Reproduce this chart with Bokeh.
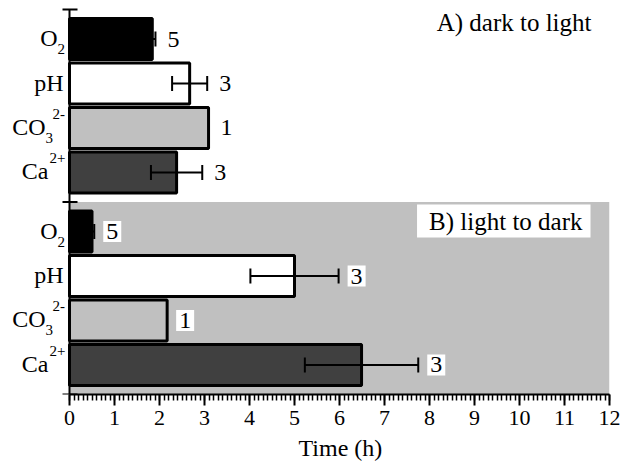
from bokeh.plotting import figure
from bokeh.models import ColumnDataSource, Whisker, TeeHead, Label, FixedTicker, Range1d, Title
from bokeh.embed import file_html
from bokeh.resources import INLINE

# ---- data -------------------------------------------------------------
species = ["O2", "pH", "CO3", "Ca"]
label_main = ["O", "pH", "CO", "Ca"]
label_sub = ["2", "", "3", ""]
label_sup = ["", "", "2-", "2+"]
bar_colors = ["#000000", "#ffffff", "#c0c0c0", "#404040"]

dark_to_light_mean = [1.84, 2.67, 3.09, 2.38]
dark_to_light_err = [0.07, 0.39, 0.0, 0.57]
dark_to_light_n = [5, 3, 1, 3]

light_to_dark_mean = [0.50, 5.00, 2.17, 6.49]
light_to_dark_err = [0.05, 0.98, 0.0, 1.26]
light_to_dark_n = [5, 3, 1, 3]

panel_titles = ["A) dark to light", "B) light to dark"]
x_title = "Time (h)"
x_ticks = list(range(0, 13))

# ---- layout constants -------------------------------------------------
PANEL_H = 4.33
EDGE = 0.665
FONT = "'Liberation Serif'"
X_MAX = 12
AXIS_PX = 69          # pixel position of x = 0
FRAME_RIGHT_PX = 609
X_MIN = -X_MAX * AXIS_PX / (FRAME_RIGHT_PX - AXIS_PX)
PX = X_MAX / (FRAME_RIGHT_PX - AXIS_PX)   # data units per pixel (x)
Y_TOP = 2 * PANEL_H + 0.045

p = figure(width=622, height=465, output_backend="svg", toolbar_location=None,
           x_range=Range1d(X_MIN, X_MAX), y_range=Range1d(0, Y_TOP),
           min_border_left=0, min_border_right=622 - FRAME_RIGHT_PX, min_border_top=7,
           min_border_bottom=71)
p.outline_line_color = None
p.grid.visible = False
p.background_fill_color = "white"
p.border_fill_color = "white"
p.yaxis.visible = False

# gray background of panel B
p.quad(left=[0], right=[X_MAX], bottom=[0], top=[PANEL_H], fill_color="#c0c0c0",
       line_color=None)

panels = [
    (PANEL_H, dark_to_light_mean, dark_to_light_err, dark_to_light_n, False),
    (0.0, light_to_dark_mean, light_to_dark_err, light_to_dark_n, True),
]

for base, means, errs, ns, boxed in panels:
    ys = [base + PANEL_H - EDGE - i for i in range(len(species))]
    src = ColumnDataSource(dict(y=ys, right=means, color=bar_colors))
    p.hbar(y="y", left=0, right="right", height=0.92, fill_color="color",
           line_color="black", line_width=3, source=src)
    wy = [y for y, e in zip(ys, errs) if e > 0]
    wlo = [m - e for m, e in zip(means, errs) if e > 0]
    whi = [m + e for m, e in zip(means, errs) if e > 0]
    wsrc = ColumnDataSource(dict(base=wy, lower=wlo, upper=whi))
    p.add_layout(Whisker(source=wsrc, base="base", lower="lower", upper="upper",
                         dimension="width", line_width=2, line_color="black",
                         level="overlay",
                         lower_head=TeeHead(size=15, line_width=2, line_color="black"),
                         upper_head=TeeHead(size=15, line_width=2, line_color="black")))
    for y, m, e, n in zip(ys, means, errs, ns):
        p.add_layout(Label(x=m + e, y=y, text=str(n), x_offset=9,
                           text_align="left", text_baseline="middle",
                           text_font=FONT, text_font_size="24px", text_color="black",
                           background_fill_color="white" if boxed else None,
                           padding=3))
    # category labels with sub/superscripts
    for y, main, sub, sup in zip(ys, label_main, label_sub, label_sup):
        if sub and sup:
            main_off, sub_off, sup_off = -24, -24, -17
        elif sub:
            main_off, sub_off, sup_off = -12, -12, 0
        elif sup:
            main_off, sub_off, sup_off = -21, 0, -20
        else:
            main_off, sub_off, sup_off = -6, 0, 0
        p.add_layout(Label(x=0, y=y, text=main, x_offset=main_off, y_offset=1,
                           text_align="right", text_baseline="middle",
                           text_font=FONT, text_font_size="24px", text_color="black"))
        if sub:
            p.add_layout(Label(x=0, y=y, text=sub, x_offset=sub_off, y_offset=-10,
                               text_align="left", text_baseline="middle",
                               text_font=FONT, text_font_size="15px", text_color="black"))
        if sup:
            p.add_layout(Label(x=0, y=y, text=sup, x_offset=sup_off, y_offset=14,
                               text_align="left", text_baseline="middle",
                               text_font=FONT, text_font_size="15px", text_color="black"))

# y axis drawn at x = 0
y_ticks = [0, PANEL_H, 2 * PANEL_H]
p.segment(x0=[0], y0=[0], x1=[0], y1=[2 * PANEL_H], line_color="black", line_width=2)
p.segment(x0=[-7 * PX] * 3, y0=y_ticks, x1=[8 * PX] * 3, y1=y_ticks,
          line_color="black", line_width=2)

# panel titles
p.add_layout(Label(x=X_MAX, y=2 * PANEL_H, text=panel_titles[0], x_offset=-18, y_offset=-13,
                   text_align="right", text_baseline="middle", text_font=FONT,
                   text_font_size="25px", text_color="black"))
p.add_layout(Label(x=X_MAX, y=PANEL_H, text=panel_titles[1], x_offset=-19, y_offset=-19,
                   text_align="right", text_baseline="middle", text_font=FONT,
                   text_font_size="25px", text_color="black",
                   background_fill_color="white",
                   padding=dict(left=12, right=8, top=3, bottom=3)))

# x axis
xa = p.xaxis[0]
xa.bounds = (0, X_MAX)
xa.ticker = FixedTicker(ticks=x_ticks, minor_ticks=[i / 10 for i in range(0, 121)])
xa.major_label_text_font = FONT
xa.major_label_text_font_size = "22px"
xa.major_label_text_color = "black"
xa.major_label_standoff = 5
xa.axis_line_width = 2
xa.major_tick_line_width = 2
xa.minor_tick_line_width = 1.5
xa.major_tick_in = 0
xa.major_tick_out = 11
xa.minor_tick_in = 0
xa.minor_tick_out = 6
xa.axis_line_color = "black"
xa.major_tick_line_color = "black"
xa.minor_tick_line_color = "black"

# x-axis title placed under the 0..12 span
p.add_layout(Title(text=x_title, align="left", offset=298,
                   text_font=FONT, text_font_size="24px", text_font_style="normal",
                   text_color="black"), "below")

open("out.html", "w").write(file_html(p, INLINE))
